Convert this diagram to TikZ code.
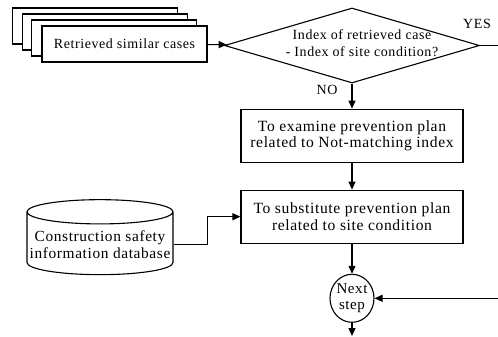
\documentclass[tikz,border=0pt]{standalone}
\usepackage{fontspec}
\setmainfont[LetterSpace=4]{Liberation Serif}
\usetikzlibrary{shapes,arrows.meta,positioning}
\tikzset{%
cardnode/.style={rectangle, draw, line width=1.1pt, fill=white, minimum width=165pt, minimum height=36pt, inner sep=1pt},
procnode/.style={rectangle, draw, line width=1.1pt, minimum width=222pt, minimum height=53pt, inner sep=1pt, align=center, font=\fontsize{15.6}{16.5}\selectfont},
decnode/.style={diamond, draw, line width=1.1pt, minimum width=255pt, minimum height=75pt, inner sep=0pt},
dbnode/.style={cylinder, shape border rotate=90, draw, line width=1.1pt, minimum width=146pt, minimum height=75pt, aspect=0.17, inner sep=1pt, align=center, font=\fontsize{15.4}{17}\selectfont},
nextnode/.style={ellipse, draw, line width=1.1pt, minimum width=44pt, minimum height=48pt, inner sep=0pt, align=center, font=\fontsize{15}{16}\selectfont},
pt/.style={draw, line width=1.1pt, -{Triangle[length=8pt,width=7pt]}}
}

\begin{document}
\begin{tikzpicture}[x=1pt, y=-1pt, font=\fontsize{14}{16.5}\selectfont]
		\useasboundingbox (0,0) rectangle (498,337);
		\foreach \i in {0,1,2} {
			\node[cardnode] (card\i) at ({95+9.7*\i},{26+6*\i}) {};
		}
		\node[cardnode] (cases) at (124.5,44) {Retrieved similar cases};
		\node[decnode] (dec) at (352,45.5) {};
		\node (qtext) at (362,43) [align=center] {Index of retrieved case\\- Index of site condition?};
		\node[procnode] (exam) [below=25pt of dec] {To examine prevention plan\\related to Not-matching index};
		\node[procnode] (subst) [below=27pt of exam] {To substitute prevention plan\\related to site condition};
		\node[dbnode] (db) at (100,244.5) {Construction safety\\information database};
		\node[nextnode] (next) [below=30pt of subst] {Next\\step};
		\node (yes) at (477,24) {YES};
		\node (no) at (327,90) {NO};
		\coordinate (outp) at (next.south |- 0,336);
		
		\path[pt] (cases) -- (dec);
		\path[pt] (dec) -- (exam);
		\path[pt] (exam) -- (subst);
		\path[pt] (subst) -- (next);
		\path[pt] (db.east) -- ++(34,0) |- (subst.west);
		\path[pt] (dec.east) -- ++(18,0) |- (next.east);
		\path[pt] (next) -- (outp);
	\end{tikzpicture}
\end{document}
